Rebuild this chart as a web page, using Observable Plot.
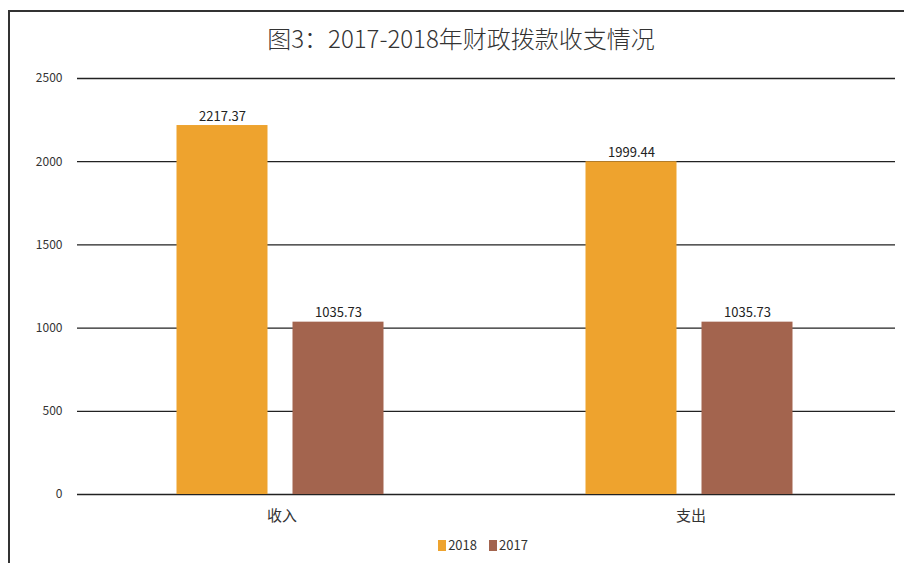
<!DOCTYPE html>
<html>
<head>
<meta charset="utf-8">
<script src="https://cdn.jsdelivr.net/npm/d3@7"></script>
<script src="https://cdn.jsdelivr.net/npm/@observablehq/plot@0.6"></script>
<style>
  html, body { margin: 0; padding: 0; background: #fff; }
  #wrap { position: relative; width: 904px; height: 563px; overflow: hidden; font-family: "Noto Sans CJK SC", "Noto Sans", sans-serif; }
  #frame { position: absolute; left: 8px; top: 10px; width: 920px; height: 600px; border-left: 2px solid #333; border-top: 2px solid #333; }
  #title { position: absolute; top: 20px; left: 0; width: 922px; text-align: center; font-size: 24px; font-weight: 300; color: #333; }
  #chart { position: absolute; left: 0; top: 60px; }
  #legend { position: absolute; top: 535px; left: 0; width: 966px; text-align: center; font-size: 13px; color: #333; }
  #legend span.sw { display: inline-block; width: 8px; height: 11px; vertical-align: -1px; margin-right: 2px; }
  #legend span.item { margin: 0 6px; }
</style>
</head>
<body>
<div id="wrap">
  <div id="frame"></div>
  <div id="title">图3：2017-2018年财政拨款收支情况</div>
  <div id="chart"></div>
  <div id="legend"></div>
</div>
<script>
const categories = ["收入", "支出"];
const years = ["2018", "2017"];
const values2018 = [2217.37, 1999.44];
const values2017 = [1035.73, 1035.73];
const colors = ["#EEA32E", "#A3644E"];
const yTicks = [0, 500, 1000, 1500, 2000, 2500];

const data = [];
categories.forEach((c, i) => {
  data.push({category: c, year: years[0], value: values2018[i]});
  data.push({category: c, year: years[1], value: values2017[i]});
});

const chart = Plot.plot({
  width: 904,
  height: 470,
  marginTop: 18,
  marginBottom: 36,
  marginLeft: 77,
  marginRight: 9,
  style: {fontFamily: "'Noto Sans CJK SC', 'Noto Sans', sans-serif", color: "#333", background: "transparent"},
  fx: {domain: categories, padding: 0, label: null},
  x: {domain: years, paddingInner: 0.2155, paddingOuter: 0.86, axis: null},
  y: {domain: [0, 2500], ticks: yTicks, label: null},
  color: {domain: years, range: colors},
  marks: [
    Plot.axisFx({anchor: "bottom", tickSize: 0, tickPadding: 16, fontSize: 15, label: null}),
    Plot.axisY({ticks: yTicks, tickSize: 0, tickPadding: 15, fontSize: 12, label: null, anchor: "left", tickFormat: d => String(d)}),
    Plot.gridY(yTicks, {stroke: "#222", strokeOpacity: 1, strokeWidth: 1.3}),
    Plot.barY(data, {fx: "category", x: "year", y: "value", fill: "year", dx: -1.5}),
    Plot.text(data, {fx: "category", x: "year", y: "value", text: d => d.value.toFixed(2), lineAnchor: "bottom", dx: -1.5, dy: -5, fontSize: 13, fill: "#222", letterSpacing: "0.5px"})
  ]
});
document.getElementById("chart").appendChild(chart);

const legend = document.getElementById("legend");
years.forEach((y, i) => {
  const item = document.createElement("span");
  item.className = "item";
  const sw = document.createElement("span");
  sw.className = "sw";
  sw.style.background = colors[i];
  item.appendChild(sw);
  item.appendChild(document.createTextNode(y));
  legend.appendChild(item);
});
</script>
</body>
</html>
